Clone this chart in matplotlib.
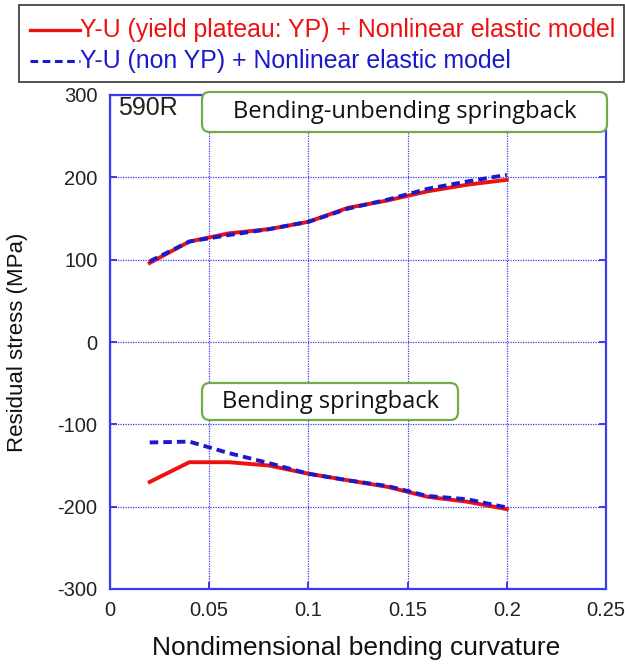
import matplotlib
matplotlib.use("Agg")
import matplotlib.pyplot as plt
from matplotlib.patches import FancyBboxPatch
from matplotlib.lines import Line2D

curvature = [0.02, 0.04, 0.06, 0.08, 0.10, 0.12, 0.14, 0.16, 0.18, 0.20]

# Bending-unbending springback (upper group)
yp_unbend = [96, 122, 132, 137, 146, 163, 172, 183, 191, 197]
nonyp_unbend = [98, 122, 130, 137, 146, 162, 173, 186, 195, 203]

# Bending springback (lower group)
yp_bend = [-170, -146, -146, -150, -160, -168, -176, -188, -194, -203]
nonyp_bend = [-122, -121, -135, -147, -160, -168, -175, -187, -191, -201]

xticks = [0, 0.05, 0.1, 0.15, 0.2, 0.25]
xtick_labels = ["0", "0.05", "0.1", "0.15", "0.2", "0.25"]
yticks = [-300, -200, -100, 0, 100, 200, 300]
ytick_labels = ["-300", "-200", "-100", "0", "100", "200", "300"]

legend_labels = ["Y-U (yield plateau: YP) + Nonlinear elastic model",
                 "Y-U (non YP) + Nonlinear elastic model"]

plt.rcParams["font.family"] = ["Liberation Sans", "DejaVu Sans"]

W, H = 625, 667
fig = plt.figure(figsize=(W / 100, H / 100), dpi=100)
ax = fig.add_axes([110 / W, 1 - 589 / H, 496 / W, 494 / H])

axis_blue = "#3b3bf0"
red = "#ee1111"
blue = "#1a1acc"

ax.plot(curvature, yp_unbend, color=red, lw=2.8, zorder=3)
ax.plot(curvature, nonyp_unbend, color=blue, lw=2.8, ls=(0, (2.2, 1.3)), zorder=4)
ax.plot(curvature, yp_bend, color=red, lw=2.8, zorder=3)
ax.plot(curvature, nonyp_bend, color=blue, lw=2.8, ls=(0, (2.2, 1.3)), zorder=4)

ax.set_xlim(0, 0.25)
ax.set_ylim(-300, 300)
ax.set_xticks(xticks)
ax.set_xticklabels(xtick_labels)
ax.set_yticks(yticks)
ax.set_yticklabels(ytick_labels)
ax.grid(True, color=axis_blue, ls=(0, (1, 1)), lw=0.9)
for s in ax.spines.values():
    s.set_color(axis_blue)
    s.set_linewidth(1.6)
ax.tick_params(direction="in", length=5, width=1.4, color=axis_blue,
               top=True, right=True, labelsize=14.5, pad=9,
               labelcolor="#222222")

fig.text(356 / W, 1 - 648 / H, "Nondimensional bending curvature",
         fontsize=19, ha="center", va="center", color="#111111")
fig.text(18 / W, 1 - 342 / H, "Residual stress (MPa)", fontsize=16,
         rotation=90, ha="center", va="center", color="#111111")

ax.text(118 / W, 1 - 108 / H, "590R", transform=fig.transFigure, fontsize=18,
        ha="left", va="center", color="#222222")

# Callout boxes with rounded green border
def callout(x0, y0, x1, y1, text, size):
    box = FancyBboxPatch((x0 / W, 1 - y1 / H), (x1 - x0) / W, (y1 - y0) / H,
                         boxstyle="round,pad=0,rounding_size=0.012",
                         transform=fig.transFigure, facecolor="white",
                         edgecolor="#70ad47", lw=1.6, zorder=10)
    fig.add_artist(box)
    fig.text((x0 + x1) / 2 / W, 1 - (y0 + y1) / 2 / H, text,
             ha="center", va="center", fontsize=size,
             family=["Open Sans", "DejaVu Sans"], color="#111111", zorder=11)

callout(202, 92, 607, 132, "Bending-unbending springback", 17)
callout(202, 383, 458, 420, "Bending springback", 17)

# Legend frame at top of figure
frame = plt.Rectangle((19 / W, 1 - 82 / H), 605 / W, 77 / H,
                      transform=fig.transFigure, facecolor="white",
                      edgecolor="#333333", lw=1.2)
fig.add_artist(frame)
fig.add_artist(Line2D([30 / W, 80 / W], [1 - 30 / H, 1 - 30 / H],
                      transform=fig.transFigure, color=red, lw=2.4))
fig.add_artist(Line2D([30 / W, 80 / W], [1 - 61 / H, 1 - 61 / H],
                      transform=fig.transFigure, color=blue, lw=2.2,
                      ls=(0, (2.5, 1.5))))
fig.text(80 / W, 1 - 30 / H, legend_labels[0], color=red, fontsize=17.9,
         ha="left", va="center")
fig.text(80 / W, 1 - 61 / H, legend_labels[1], color=blue, fontsize=17.9,
         ha="left", va="center")

fig.savefig("out.png", dpi=100)
